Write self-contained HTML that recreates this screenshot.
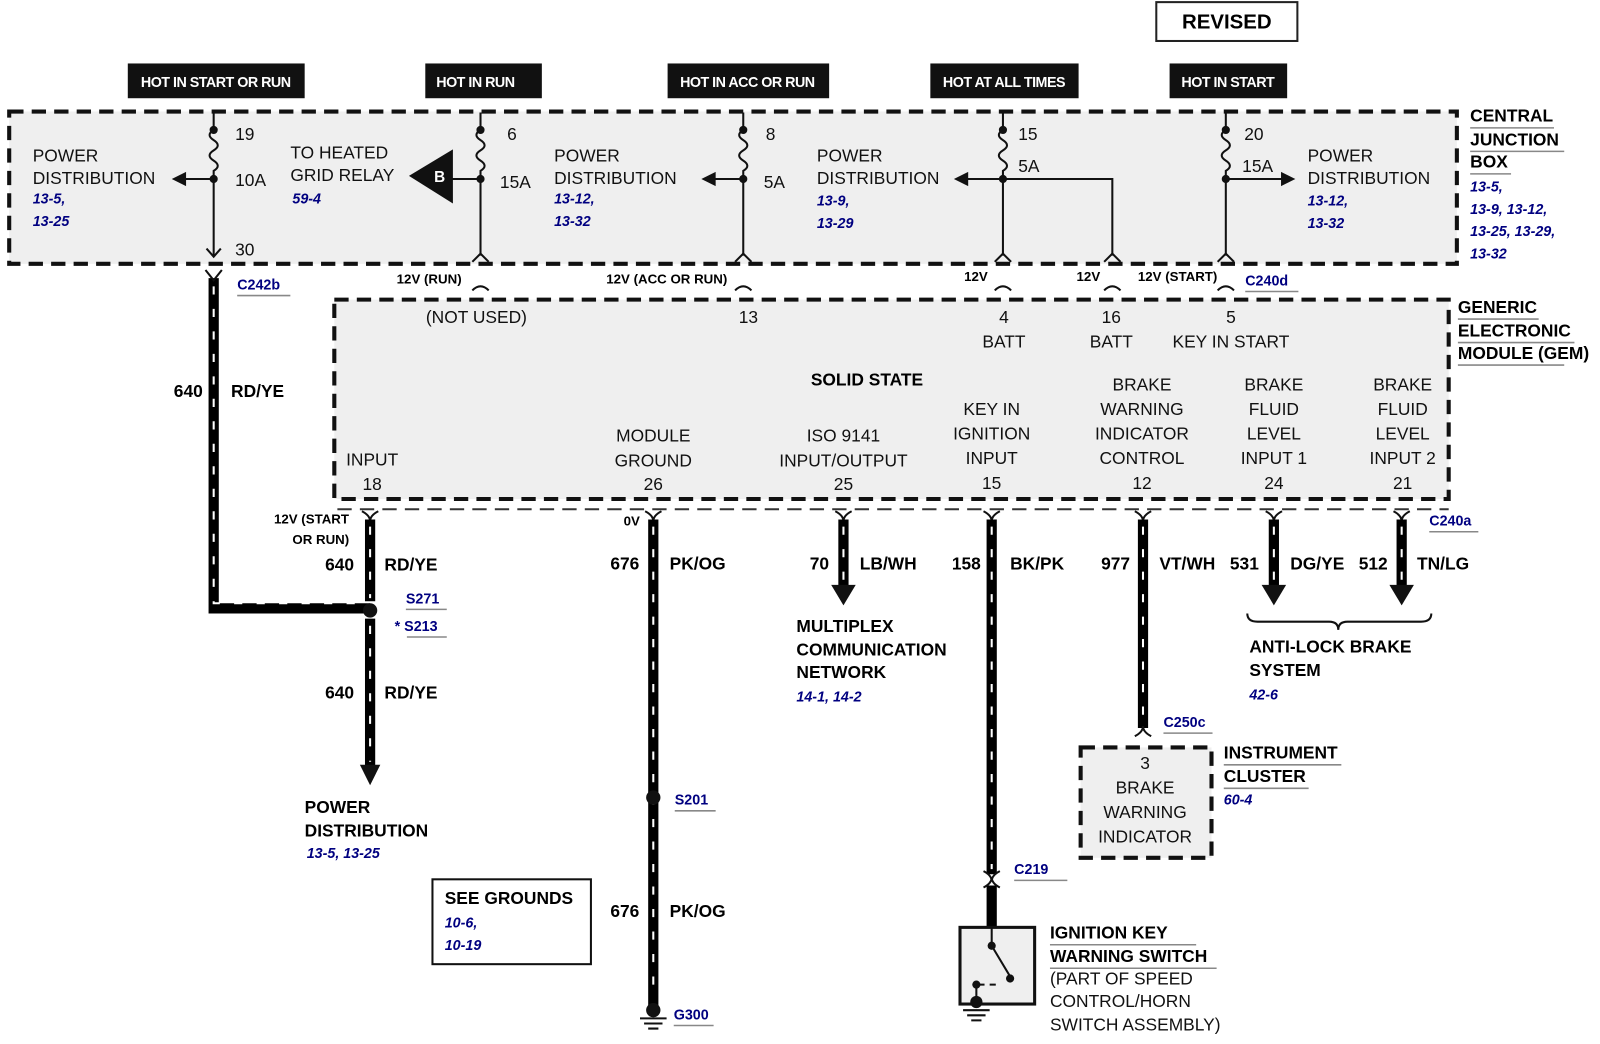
<!DOCTYPE html>
<html><head><meta charset="utf-8"><style>
html,body{margin:0;padding:0;background:#fff;}
svg{display:block;}
text{font-family:"Liberation Sans",Arial,sans-serif;}
.b{font-weight:bold;}
.r{fill:#000080;font-weight:bold;font-style:italic;font-size:14px;}
.n{font-size:17px;fill:#111;}
.h{fill:#fff;font-weight:bold;font-size:14px;letter-spacing:-0.5px;}
.w{stroke:#000;stroke-width:10;fill:none;}
.ws{stroke:#fff;stroke-width:2;stroke-dasharray:8 14;fill:none;}
.t{stroke:#111;stroke-width:2;fill:none;}
.ul{stroke:#888;stroke-width:1.5;}
.sm{font-size:13px;font-weight:bold;}
.lb{font-size:17px;font-weight:bold;}
.blu{fill:#000080;font-weight:bold;font-size:14px;}
</style></head><body>
<svg width="1600" height="1044" viewBox="0 0 1565 1021" xmlns="http://www.w3.org/2000/svg">
<rect width="1565" height="1021" fill="#fff"/>
<!-- REVISED -->
<rect x="1131" y="2" width="138" height="38" fill="#fff" stroke="#222" stroke-width="2"/>
<text x="1200" y="28" text-anchor="middle" class="b" font-size="20">REVISED</text>
<!-- headers -->
<rect x="125" y="62" width="173" height="34" fill="#111"/><text x="211" y="85" text-anchor="middle" class="h">HOT IN START OR RUN</text>
<rect x="416" y="62" width="114" height="34" fill="#111"/><text x="465" y="85" text-anchor="middle" class="h">HOT IN RUN</text>
<rect x="653" y="62" width="158" height="34" fill="#111"/><text x="731" y="85" text-anchor="middle" class="h">HOT IN ACC OR RUN</text>
<rect x="910" y="62" width="145" height="34" fill="#111"/><text x="982" y="85" text-anchor="middle" class="h">HOT AT ALL TIMES</text>
<rect x="1144" y="62" width="115" height="34" fill="#111"/><text x="1201" y="85" text-anchor="middle" class="h">HOT IN START</text>
<!-- CJB -->
<rect x="9" y="109" width="1416" height="149" fill="#efefef" stroke="#111" stroke-width="4" stroke-dasharray="14 8"/>
<g class="t">
<path d="M209 110V127 q-8 5 0 10 q8 5 0 10 q-8 5 0 10 q8 5 0 10 V250"/>
<path d="M202 243 L209 251 L216 243"/>
<path d="M209 175H180"/>
<path d="M470 110V127 q-8 5 0 10 q8 5 0 10 q-8 5 0 10 q8 5 0 10 V250"/>
<path d="M462 256 L470 248 L478 256"/>
<path d="M470 175H440"/>
<path d="M727 110V127 q-8 5 0 10 q8 5 0 10 q-8 5 0 10 q8 5 0 10 V250"/>
<path d="M719 256 L727 248 L735 256"/>
<path d="M727 175H698"/>
<path d="M981 110V127 q-8 5 0 10 q8 5 0 10 q-8 5 0 10 q8 5 0 10 V250"/>
<path d="M973 256 L981 248 L989 256"/>
<path d="M981 175H945 M981 175H1088V250"/>
<path d="M1080 256 L1088 248 L1096 256"/>
<path d="M1199 110V127 q-8 5 0 10 q8 5 0 10 q-8 5 0 10 q8 5 0 10 V250"/>
<path d="M1191 256 L1199 248 L1207 256"/>
<path d="M1199 175H1255"/>
</g>
<g fill="#111">
<circle cx="209" cy="127" r="4"/><circle cx="209" cy="175" r="4"/>
<circle cx="470" cy="127" r="4"/><circle cx="470" cy="175" r="4"/>
<circle cx="727" cy="127" r="4"/><circle cx="727" cy="175" r="4"/>
<circle cx="981" cy="127" r="4"/><circle cx="981" cy="175" r="4"/>
<circle cx="1199" cy="127" r="4"/><circle cx="1199" cy="175" r="4"/>
<path d="M168 175 L182 168 L182 182Z"/>
<path d="M686 175 L700 168 L700 182Z"/>
<path d="M933 175 L947 168 L947 182Z"/>
<path d="M1267 175 L1253 168 L1253 182Z"/>
<path d="M400 172 L443 146 L443 199Z"/>
</g>
<text x="430" y="178" text-anchor="middle" fill="#fff" class="b" font-size="15">B</text>
<g class="n">
<text x="230" y="137">19</text><text x="230" y="182">10A</text><text x="230" y="250">30</text>
<text x="496" y="137">6</text><text x="489" y="184">15A</text>
<text x="749" y="137">8</text><text x="747" y="184">5A</text>
<text x="996" y="137">15</text><text x="996" y="168">5A</text>
<text x="1217" y="137">20</text><text x="1215" y="168">15A</text>
<text x="32" y="158">POWER</text><text x="32" y="180">DISTRIBUTION</text>
<text x="284" y="155">TO HEATED</text><text x="284" y="177">GRID RELAY</text>
<text x="542" y="158">POWER</text><text x="542" y="180">DISTRIBUTION</text>
<text x="799" y="158">POWER</text><text x="799" y="180">DISTRIBUTION</text>
<text x="1279" y="158">POWER</text><text x="1279" y="180">DISTRIBUTION</text>
</g>
<text class="r" x="32" y="199">13-5,</text><text class="r" x="32" y="221">13-25</text>
<text class="r" x="286" y="199">59-4</text>
<text class="r" x="542" y="199">13-12,</text><text class="r" x="542" y="221">13-32</text>
<text class="r" x="799" y="201">13-9,</text><text class="r" x="799" y="223">13-29</text>
<text class="r" x="1279" y="201">13-12,</text><text class="r" x="1279" y="223">13-32</text>
<text class="lb" x="1438" y="119">CENTRAL</text><line class="ul" x1="1438" y1="125" x2="1520" y2="125"/>
<text class="lb" x="1438" y="142">JUNCTION</text><line class="ul" x1="1438" y1="148" x2="1530" y2="148"/>
<text class="lb" x="1438" y="164">BOX</text><line class="ul" x1="1438" y1="170" x2="1478" y2="170"/>
<text class="r" x="1438" y="187">13-5,</text>
<text class="r" x="1438" y="209">13-9,   13-12,</text>
<text class="r" x="1438" y="231">13-25,   13-29,</text>
<text class="r" x="1438" y="253">13-32</text>
<!-- between boxes -->
<g class="sm">
<text x="388" y="277">12V (RUN)</text>
<text x="593" y="277">12V (ACC OR RUN)</text>
<text x="943" y="275">12V</text>
<text x="1053" y="275">12V</text>
<text x="1113" y="275">12V (START)</text>
</g>
<g class="t">
<path d="M462 284 q8 -8 16 0"/><path d="M719 284 q8 -8 16 0"/><path d="M973 284 q8 -8 16 0"/><path d="M1080 284 q8 -8 16 0"/><path d="M1191 284 q8 -8 16 0"/>
</g>
<text class="blu" x="1218" y="279">C240d</text><line class="ul" x1="1218" y1="285" x2="1270" y2="285"/>
<text class="blu" x="232" y="283">C242b</text><line class="ul" x1="232" y1="289" x2="284" y2="289"/>
<!-- 640 wire -->
<path class="w" d="M209 272V595H362"/>
<path class="ws" d="M209 280V590H355"/>
<path d="M201 264 L209 274 L217 264" class="t" stroke-width="4"/>
<text class="lb" x="170" y="388">640</text><text class="lb" x="226" y="388">RD/YE</text>
<!-- GEM -->
<rect x="327" y="293" width="1090" height="195" fill="#efefef" stroke="#111" stroke-width="4" stroke-dasharray="14 8"/>
<path d="M330 498H1417" stroke="#333" stroke-width="2" stroke-dasharray="14 8"/>
<text class="lb" x="1426" y="306">GENERIC</text><line class="ul" x1="1426" y1="312" x2="1505" y2="312"/>
<text class="lb" x="1426" y="329">ELECTRONIC</text><line class="ul" x1="1426" y1="335" x2="1540" y2="335"/>
<text class="lb" x="1426" y="351">MODULE (GEM)</text><line class="ul" x1="1426" y1="357" x2="1530" y2="357"/>
<g class="n" text-anchor="middle">
<text x="466" y="316">(NOT USED)</text><text x="732" y="316">13</text>
<text x="982" y="316">4</text><text x="982" y="340">BATT</text>
<text x="1087" y="316">16</text><text x="1087" y="340">BATT</text>
<text x="1204" y="316">5</text><text x="1204" y="340">KEY IN START</text>
<text x="364" y="455">INPUT</text><text x="364" y="479">18</text>
<text x="639" y="432">MODULE</text><text x="639" y="456">GROUND</text><text x="639" y="479">26</text>
<text x="825" y="432">ISO 9141</text><text x="825" y="456">INPUT/OUTPUT</text><text x="825" y="479">25</text>
<text x="970" y="406">KEY IN</text><text x="970" y="430">IGNITION</text><text x="970" y="454">INPUT</text><text x="970" y="478">15</text>
<text x="1117" y="382">BRAKE</text><text x="1117" y="406">WARNING</text><text x="1117" y="430">INDICATOR</text><text x="1117" y="454">CONTROL</text><text x="1117" y="478">12</text>
<text x="1246" y="382">BRAKE</text><text x="1246" y="406">FLUID</text><text x="1246" y="430">LEVEL</text><text x="1246" y="454">INPUT 1</text><text x="1246" y="478">24</text>
<text x="1372" y="382">BRAKE</text><text x="1372" y="406">FLUID</text><text x="1372" y="430">LEVEL</text><text x="1372" y="454">INPUT 2</text><text x="1372" y="478">21</text>
</g>
<text x="848" y="377" text-anchor="middle" class="lb" font-size="16">SOLID STATE</text>
<!-- bottom wires -->
<g class="t" stroke-width="3">
<path d="M354 500 q8 4 8 10 q0 -6 8 -10"/><path d="M631 500 q8 4 8 10 q0 -6 8 -10"/><path d="M817 500 q8 4 8 10 q0 -6 8 -10"/>
<path d="M962 500 q8 4 8 10 q0 -6 8 -10"/><path d="M1110 500 q8 4 8 10 q0 -6 8 -10"/><path d="M1238 500 q8 4 8 10 q0 -6 8 -10"/><path d="M1363 500 q8 4 8 10 q0 -6 8 -10"/>
</g>
<path class="w" d="M362 508V588 M362 605V750"/><path class="ws" d="M362 515V585 M362 612V745"/>
<path d="M352 748H372L362 768Z" fill="#111"/>
<circle cx="362" cy="597" r="7" fill="#111"/>
<path class="w" d="M639 508V985"/><path class="ws" d="M639 515V975"/>
<circle cx="639" cy="780" r="7" fill="#111"/><circle cx="639" cy="988" r="7" fill="#111"/>
<path d="M626 996H652M630 1001H648M634 1006H644" class="t"/>
<path class="w" d="M825 508V575"/><path class="ws" d="M825 515V570"/><path d="M813 572H837L825 592Z" fill="#111"/>
<path class="w" d="M970 508V855 M970 866V906"/><path class="ws" d="M970 515V850"/>
<path class="t" stroke-width="3" d="M962 852 q8 4 8 10 q0 -6 8 -10 M962 868 q8 -4 8 -10 q0 6 8 10"/>
<path class="w" d="M1118 508V712"/><path class="ws" d="M1118 515V708"/>
<path class="t" stroke-width="3" d="M1110 720 q8 -4 8 -10 q0 6 8 10"/>
<path class="w" d="M1246 508V575"/><path class="ws" d="M1246 515V570"/><path d="M1234 572H1258L1246 592Z" fill="#111"/>
<path class="w" d="M1371 508V575"/><path class="ws" d="M1371 515V570"/><path d="M1359 572H1383L1371 592Z" fill="#111"/>
<!-- wire labels -->
<text class="sm" x="268" y="512">12V (START</text><text class="sm" x="286" y="532">OR RUN)</text>
<text class="lb" x="318" y="558">640</text><text class="lb" x="376" y="558">RD/YE</text>
<text class="blu" x="397" y="590">S271</text><line class="ul" x1="397" y1="596" x2="437" y2="596"/>
<text class="blu" x="386" y="617">* S213</text><line class="ul" x1="398" y1="623" x2="437" y2="623"/>
<text class="lb" x="318" y="683">640</text><text class="lb" x="376" y="683">RD/YE</text>
<text class="lb" x="298" y="795">POWER</text><text class="lb" x="298" y="818">DISTRIBUTION</text>
<text class="r" x="300" y="839">13-5,  13-25</text>
<text class="sm" x="610" y="514" font-size="12">0V</text>
<text class="lb" x="597" y="557">676</text><text class="lb" x="655" y="557">PK/OG</text>
<text class="blu" x="660" y="787">S201</text><line class="ul" x1="660" y1="793" x2="700" y2="793"/>
<text class="lb" x="597" y="897">676</text><text class="lb" x="655" y="897">PK/OG</text>
<text class="blu" x="659" y="997">G300</text><line class="ul" x1="659" y1="1003" x2="698" y2="1003"/>
<text class="lb" x="792" y="557">70</text><text class="lb" x="841" y="557">LB/WH</text>
<text class="lb" x="779" y="618">MULTIPLEX</text><text class="lb" x="779" y="641">COMMUNICATION</text><text class="lb" x="779" y="663">NETWORK</text>
<text class="r" x="779" y="686">14-1,  14-2</text>
<text class="lb" x="931" y="557">158</text><text class="lb" x="988" y="557">BK/PK</text>
<text class="lb" x="1077" y="557">977</text><text class="lb" x="1134" y="557">VT/WH</text>
<text class="lb" x="1203" y="557">531</text><text class="lb" x="1262" y="557">DG/YE</text>
<text class="lb" x="1329" y="557">512</text><text class="lb" x="1386" y="557">TN/LG</text>
<text class="blu" x="1398" y="514">C240a</text><line class="ul" x1="1398" y1="520" x2="1446" y2="520"/>
<path class="t" d="M1220 600 q0 8 10 8 H1300 q9 0 9 8 q0 -8 9 -8 H1390 q10 0 10 -8"/>
<text class="lb" x="1222" y="638">ANTI-LOCK BRAKE</text><text class="lb" x="1222" y="661">SYSTEM</text>
<text class="r" x="1222" y="684">42-6</text>
<text class="blu" x="1138" y="711">C250c</text><line class="ul" x1="1138" y1="717" x2="1186" y2="717"/>
<rect x="1057" y="731" width="128" height="108" fill="#efefef" stroke="#111" stroke-width="4" stroke-dasharray="14 8"/>
<g class="n" text-anchor="middle"><text x="1120" y="752">3</text><text x="1120" y="776">BRAKE</text><text x="1120" y="800">WARNING</text><text x="1120" y="824">INDICATOR</text></g>
<text class="lb" x="1197" y="742">INSTRUMENT</text><line class="ul" x1="1197" y1="748" x2="1312" y2="748"/>
<text class="lb" x="1197" y="765">CLUSTER</text><line class="ul" x1="1197" y1="771" x2="1280" y2="771"/>
<text class="r" x="1197" y="787">60-4</text>
<text class="blu" x="992" y="855">C219</text><line class="ul" x1="992" y1="861" x2="1044" y2="861"/>
<!-- ignition switch -->
<rect x="939" y="907" width="73" height="75" fill="#efefef" stroke="#111" stroke-width="3"/>
<path class="t" d="M970 907V925 L988 955 M955 963V975 M955 963h8 M968 963h6" />
<circle cx="970" cy="925" r="4" fill="#111"/><circle cx="988" cy="957" r="4" fill="#111"/><circle cx="955" cy="963" r="4" fill="#111"/><circle cx="955" cy="980" r="6" fill="#111"/>
<path class="t" d="M942 988H968M946 993H964M950 998H960"/>
<text class="lb" x="1027" y="918">IGNITION KEY</text><line class="ul" x1="1027" y1="924" x2="1170" y2="924"/>
<text class="lb" x="1027" y="941">WARNING SWITCH</text><line class="ul" x1="1027" y1="947" x2="1190" y2="947"/>
<g class="n"><text x="1027" y="963">(PART OF SPEED</text><text x="1027" y="985">CONTROL/HORN</text><text x="1027" y="1008">SWITCH ASSEMBLY)</text></g>
<!-- see grounds -->
<rect x="423" y="860" width="155" height="83" fill="#fff" stroke="#111" stroke-width="2"/>
<text class="lb" x="435" y="884">SEE GROUNDS</text>
<text class="r" x="435" y="907">10-6,</text><text class="r" x="435" y="929">10-19</text>
</svg>
</body></html>
